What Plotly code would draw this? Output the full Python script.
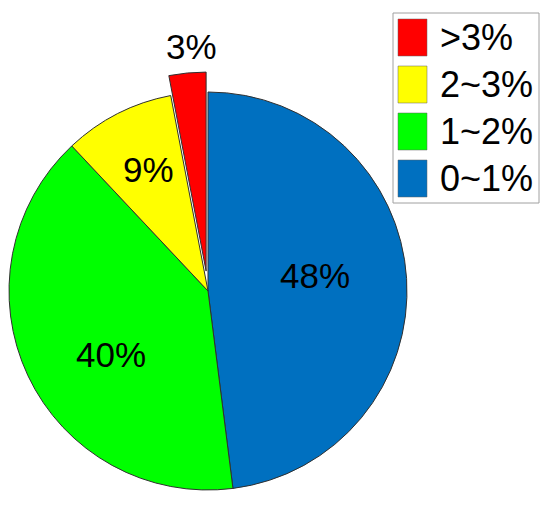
import math
import plotly.graph_objects as go

# ---- data ----
labels = ["0~1%", "1~2%", "2~3%", ">3%"]
values = [48, 40, 9, 3]
colors = ["#0070C0", "#00FF00", "#FFFF00", "#FF0000"]

W, H = 550, 505
FONT = "Liberation Sans, Arial, sans-serif"

# geometry (pixels)
CX, CY, R = 208, 291, 199
PULL_PX = 20
label_r = [0.544, 0.59, 0.67, 1.22]      # radial position of each percent label (fraction of R)
label_nudge = [-3.6, -9.0, 0.7, 1.6]     # angular nudge of each label from the bisector (deg)


def fx(px):
    return px / W


def fy(py):
    return 1 - py / H


n = len(values)
red_i = n - 1
total = sum(values)

# bisector angle (clockwise from 12 o'clock) of each slice
cum = 0
bis = []
for v in values:
    bis.append((cum + v / 2) / total * 2 * math.pi)
    cum += v

# main pie (pulled slice left empty)
main_colors = [c if i != red_i else "rgba(0,0,0,0)" for i, c in enumerate(colors)]
main_lw = [1 if i != red_i else 0 for i in range(n)]

# pulled slice drawn as its own pie, offset outward along its bisector
pull_colors = [c if i == red_i else "rgba(0,0,0,0)" for i, c in enumerate(colors)]
pull_lw = [1 if i == red_i else 0 for i in range(n)]
pcx = CX + PULL_PX * math.sin(bis[red_i])
pcy = CY - PULL_PX * math.cos(bis[red_i])

fig = go.Figure()
fig.add_trace(go.Pie(
    labels=labels, values=values, sort=False, direction="clockwise", rotation=0,
    marker=dict(colors=main_colors, line=dict(color="#303030", width=main_lw)),
    textinfo="none",
    domain=dict(x=[fx(CX - R), fx(CX + R)], y=[fy(CY + R), fy(CY - R)]),
    showlegend=False, hoverinfo="label+percent",
))
fig.add_trace(go.Pie(
    labels=labels, values=values, sort=False, direction="clockwise", rotation=0,
    marker=dict(colors=pull_colors, line=dict(color="#303030", width=pull_lw)),
    textinfo="none",
    domain=dict(x=[fx(pcx - R), fx(pcx + R)], y=[fy(pcy + R), fy(pcy - R)]),
    showlegend=False, hoverinfo="label+percent",
))

annotations = []
# percent labels
for i, v in enumerate(values):
    a = bis[i] + math.radians(label_nudge[i])
    rr = label_r[i] * R
    x = CX + rr * math.sin(a)
    y = CY - rr * math.cos(a)
    annotations.append(dict(xref="paper", yref="paper", x=fx(x), y=fy(y), yshift=2,
                            text=f"{round(v / total * 100)}%", showarrow=False,
                            xanchor="center", yanchor="middle",
                            font=dict(family=FONT, size=35, color="black")))

# custom legend (reversed order, large swatches)
shapes = [dict(type="rect", xref="paper", yref="paper",
               x0=fx(393), x1=fx(539), y0=fy(203), y1=fy(13),
               line=dict(color="#A0A0A0", width=1), fillcolor="white", layer="below")]
for k, i in enumerate(reversed(range(n))):
    top = 19 + 47 * k
    shapes.append(dict(type="rect", xref="paper", yref="paper",
                       x0=fx(398), x1=fx(427), y0=fy(top + 37), y1=fy(top),
                       line=dict(color="#606060", width=0.5), fillcolor=colors[i]))
    annotations.append(dict(xref="paper", yref="paper", x=fx(438), y=fy(top + 18.5),
                            text=labels[i], showarrow=False, xanchor="left", yanchor="middle",
                            font=dict(family=FONT, size=36, color="black")))

fig.update_layout(
    width=W, height=H, margin=dict(l=0, r=0, t=0, b=0),
    paper_bgcolor="white", plot_bgcolor="white",
    shapes=shapes, annotations=annotations,
)

fig.write_html("out.html", config={"displayModeBar": False},
               post_script="document.body.style.margin='0px';")
